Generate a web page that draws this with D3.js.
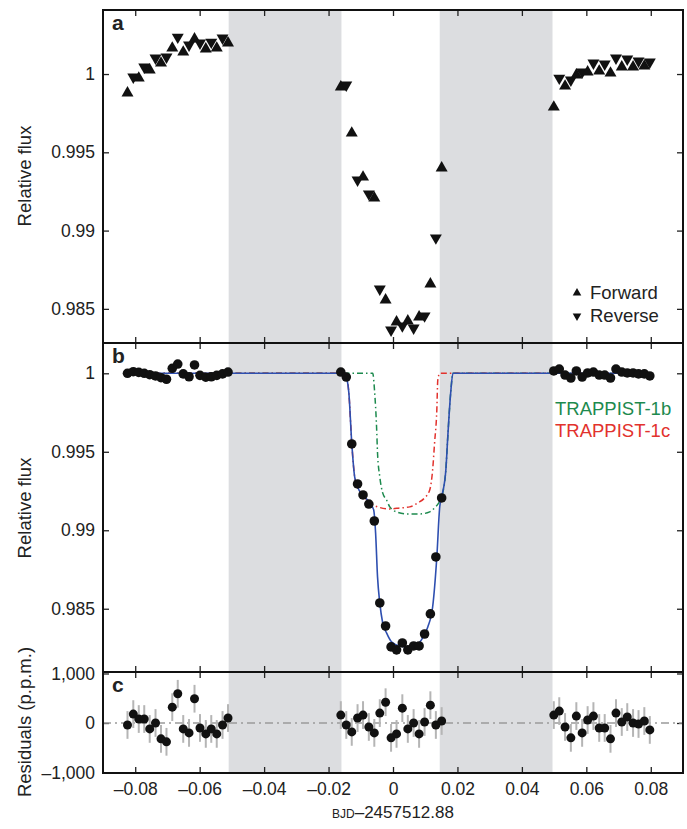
<!DOCTYPE html>
<html>
<head>
<meta charset="utf-8">
<script src="https://cdn.jsdelivr.net/npm/d3@7"></script>
<style>
  body { margin: 0; background: #fff; }
  svg text { font-family: "Liberation Sans", Arial, Helvetica, sans-serif; fill: #222; }
</style>
</head>
<body>
<svg id="chart"></svg>
<script>
// binned times (days from BJD 2457512.88), shared by the three panels
const times = [
  -0.0824, -0.0806, -0.0789, -0.0772, -0.0755, -0.0737, -0.0720, -0.0703, -0.0685, -0.0668,
  -0.0651, -0.0633, -0.0616, -0.0599, -0.0581, -0.0564, -0.0547, -0.0529, -0.0512,
  -0.0162, -0.0145, -0.0128, -0.0110, -0.0093, -0.0075, -0.0058, -0.0041, -0.0023, -0.0006,
  0.0011, 0.0029, 0.0046, 0.0064, 0.0081, 0.0098, 0.0116, 0.0133, 0.0151,
  0.0499, 0.0516, 0.0534, 0.0552, 0.0569, 0.0587, 0.0604, 0.0622, 0.0640, 0.0657,
  0.0675, 0.0692, 0.0710, 0.0727, 0.0745, 0.0762, 0.0780, 0.0797
];

// panel a: raw flux, forward / reverse scans
const fluxA = [
  0.99879, 0.99981, 0.99974, 1.00045, 1.00026, 1.00102, 1.00070, 1.00109, 1.00166, 1.00236,
  1.00140, 1.00185, 1.00224, 1.00198, 1.00160, 1.00204, 1.00166, 1.00230, 1.00198,
  0.99917, 0.99930, 0.99623, 0.99323, 0.99342, 0.99234, 0.99208, 0.98627, 0.98557, 0.98365,
  0.98416, 0.98391, 0.98423, 0.98378, 0.98448, 0.98455, 0.98659, 0.98953, 0.99400,
  0.99789, 0.99974, 0.99923, 0.99962, 0.99994, 1.00013, 1.00013, 1.00070, 1.00019, 1.00064,
  1.00006, 1.00102, 1.00045, 1.00096, 1.00045, 1.00083, 1.00051, 1.00077
];
const sweep = ("FRFRFRFRFRFRFRFRFRF" + "FRFRFRFRFRFRFRFRFRF" + "FRFRFRFRFRFRFRFRFR").split("");

// panel b: detrended flux
const fluxB = [
  1.00000, 1.00010, 1.00006, 1.00000, 0.99991, 0.99983, 0.99972, 0.99962, 1.00032, 1.00059,
  0.99996, 0.99978, 1.00053, 0.99987, 0.99975, 0.99978, 0.99987, 0.99996, 1.00008,
  1.00008, 0.99976, 0.99550, 0.99295, 0.99225, 0.99167, 0.99059, 0.98537, 0.98390, 0.98257,
  0.98238, 0.98282, 0.98238, 0.98263, 0.98263, 0.98339, 0.98467, 0.98830, 0.99206,
  1.00015, 1.00027, 0.99989, 0.99970, 1.00015, 0.99976, 1.00002, 1.00008, 0.99989, 0.99989,
  0.99970, 1.00027, 1.00008, 1.00002, 1.00002, 0.99996, 0.99996, 0.99983
];

// panel c: residuals (p.p.m.)
const residuals = [
  -40, 180, 80, 80, -120, 0, -320, -380, 320, 590, -120, -200, 490, -100, -220, -120, -220, -40, 100,
  160, -40, -180, 100, 160, -80, -200, 200, 420, -300, -220, 300, -120, 0, -220, 20, 360, -40, 40,
  160, 240, -80, -300, 140, -200, 60, 140, -100, -100, -320, 200, 20, 120, 0, -20, 40, -140
];
const residualError = 280;

// model curves
const modelT = [-0.0824, -0.0147, -0.0144, -0.0137, -0.0128, -0.0119, -0.0110, -0.0094, -0.0072, -0.0060,
  -0.0054, -0.0048, -0.0041, -0.0032, -0.0020, -0.0004, 0.0021, 0.0046, 0.0074, 0.0092,
  0.0108, 0.0123, 0.0136, 0.0145, 0.0151, 0.0164, 0.0170, 0.0179, 0.0186, 0.0797];
const modelF = [1, 1, 0.99976, 0.99875, 0.99556, 0.99340, 0.99276, 0.99225, 0.99175, 0.99130,
  0.98983, 0.98703, 0.98537, 0.98410, 0.98346, 0.98288, 0.98263, 0.98257, 0.98269, 0.98314,
  0.98384, 0.98511, 0.98830, 0.99149, 0.99212, 0.99384, 0.99595, 0.99875, 1, 1];

const bT = [-0.0824, -0.0063, -0.0057, -0.0051, -0.0048, -0.0041, -0.0032, -0.0020, -0.0010, 0.0011,
  0.0043, 0.0083, 0.0114, 0.0129, 0.0142, 0.0151, 0.0164, 0.0170, 0.0179, 0.0186, 0.0797];
const bF = [1, 1, 0.99881, 0.99658, 0.99492, 0.99340, 0.99238, 0.99193, 0.99149, 0.99117,
  0.99104, 0.99104, 0.99117, 0.99142, 0.99174, 0.99212, 0.99384, 0.99595, 0.99875, 1, 1];

const cT = [-0.0824, -0.0147, -0.0137, -0.0128, -0.0119, -0.0110, -0.0094, -0.0072, -0.0048, -0.0010,
  0.0021, 0.0052, 0.0077, 0.0098, 0.0114, 0.0123, 0.0129, 0.0136, 0.0139, 0.0145, 0.0797];
const cF = [1, 1, 0.99875, 0.99556, 0.99340, 0.99276, 0.99225, 0.99175, 0.99149, 0.99136,
  0.99142, 0.99149, 0.99175, 0.99206, 0.99257, 0.99384, 0.99556, 0.99766, 0.99957, 1, 1];

// shaded (excluded) intervals
const bands = [[-0.051, -0.016], [0.0145, 0.0495]];

const xTicks = [-0.08, -0.06, -0.04, -0.02, 0, 0.02, 0.04, 0.06, 0.08];
const fluxTicks = [1, 0.995, 0.99, 0.985];
const residualTicks = [1000, 0, -1000];

const WIDTH = 687, HEIGHT = 829;
const left = 103, right = 683;

const svg = d3.select("svg#chart")
              .attr("width", WIDTH)
              .attr("height", HEIGHT);

const x = d3.scaleLinear().domain([-0.09, 0.09]).range([left, right]);

const panels = [
  { id: "a", top: 10, bottom: 343, y: d3.scaleLinear().domain([0.98282, 1.00409]).range([343, 10]), ticks: fluxTicks },
  { id: "b", top: 343, bottom: 672, y: d3.scaleLinear().domain([0.98097, 1.00193]).range([672, 343]), ticks: fluxTicks },
  { id: "c", top: 672, bottom: 773, y: d3.scaleLinear().domain([-1010, 1030]).range([773, 672]), ticks: residualTicks }
];

const dash = (v) => v === 0 ? "0" : (v < 0 ? "\u2013" : "") + Math.abs(v).toFixed(2);
const thousands = (v) => v === 0 ? "0" : (v < 0 ? "\u2013" : "") + d3.format(",")(Math.abs(v));

panels.forEach((p) => {
  const g = svg.append("g").attr("id", "panel-" + p.id);

  g.selectAll("rect.band")
    .data(bands)
    .join("rect")
      .attr("class", "band")
      .attr("x", (d) => x(d[0]))
      .attr("width", (d) => x(d[1]) - x(d[0]))
      .attr("y", p.top)
      .attr("height", p.bottom - p.top)
      .attr("fill", "#dcdde0");

  // inward ticks on all four sides
  g.append("g")
    .attr("transform", `translate(${left}, 0)`)
    .call(d3.axisLeft(p.y).tickValues(p.ticks).tickSize(-6).tickPadding(8)
            .tickFormat(p.id === "c" ? thousands : (d) => String(d)));
  g.append("g")
    .attr("transform", `translate(${right}, 0)`)
    .call(d3.axisRight(p.y).tickValues(p.ticks).tickSize(-6).tickFormat(""));
  g.append("g")
    .attr("transform", `translate(0, ${p.top})`)
    .call(d3.axisTop(x).tickValues(xTicks).tickSize(-6).tickFormat(""));
  g.append("g")
    .attr("transform", `translate(0, ${p.bottom})`)
    .call(d3.axisBottom(x).tickValues(xTicks).tickSize(-6).tickPadding(10)
            .tickFormat(p.id === "c" ? dash : ""));

  g.selectAll(".domain").remove();
  g.selectAll(".tick line").attr("stroke", "#222").attr("stroke-width", 1.3);
  g.selectAll(".tick text").attr("font-size", 17.5).attr("fill", "#222")
    .style("font-family", '"Liberation Sans", Arial, sans-serif');

  g.append("text")
    .attr("x", 112)
    .attr("y", p.top + 20)
    .attr("font-size", 21)
    .attr("font-weight", "bold")
    .attr("fill", "#111")
    .text(p.id);

  p.g = g;
});

const [pa, pb, pc] = panels;

// panel a: triangles
const tri = d3.symbol().type(d3.symbolTriangle).size(62);
pa.g.selectAll("path.scan")
  .data(times.map((t, i) => ({ t: t, f: fluxA[i], s: sweep[i] })))
  .join("path")
    .attr("class", "scan")
    .attr("d", tri)
    .attr("transform", (d) => `translate(${x(d.t)}, ${pa.y(d.f)})` + (d.s === "R" ? " rotate(180)" : ""))
    .attr("fill", "#111");

const legendA = pa.g.append("g");
[["Forward", 299, 0], ["Reverse", 322, 180]].forEach(([name, yy, rot]) => {
  legendA.append("path")
    .attr("d", d3.symbol().type(d3.symbolTriangle).size(32))
    .attr("transform", `translate(577, ${yy - 6}) rotate(${rot})`)
    .attr("fill", "#111");
  legendA.append("text")
    .attr("x", 590)
    .attr("y", yy)
    .attr("font-size", 18.5)
    .text(name);
});

// panel b: models and detrended points
const line = (ys) => d3.line()
                        .x((d) => x(d[0]))
                        .y((d) => ys(d[1]))
                        .curve(d3.curveMonotoneX);

pb.g.append("path")
  .datum(bT.map((t, i) => [t, bF[i]]))
  .attr("d", line(pb.y))
  .attr("fill", "none")
  .attr("stroke", "#1d8a4e")
  .attr("stroke-width", 1.5)
  .attr("stroke-dasharray", "6,3,1.5,3");

pb.g.append("path")
  .datum(cT.map((t, i) => [t, cF[i]]))
  .attr("d", line(pb.y))
  .attr("fill", "none")
  .attr("stroke", "#e2322d")
  .attr("stroke-width", 1.5)
  .attr("stroke-dasharray", "6,3,1.5,3");

pb.g.append("path")
  .datum(modelT.map((t, i) => [t, modelF[i]]))
  .attr("d", line(pb.y))
  .attr("fill", "none")
  .attr("stroke", "#2e4fb0")
  .attr("stroke-width", 1.6);

pb.g.selectAll("circle")
  .data(times.map((t, i) => ({ t: t, f: fluxB[i] })))
  .join("circle")
    .attr("cx", (d) => x(d.t))
    .attr("cy", (d) => pb.y(d.f))
    .attr("r", 4.8)
    .attr("fill", "#111");

pb.g.append("text")
  .attr("x", 555).attr("y", 415)
  .attr("font-size", 18.5)
  .style("fill", "#1d8a4e")
  .text("TRAPPIST-1b");
pb.g.append("text")
  .attr("x", 555).attr("y", 437)
  .attr("font-size", 18.5)
  .style("fill", "#e2322d")
  .text("TRAPPIST-1c");

// panel c: residuals
pc.g.append("line")
  .attr("x1", left).attr("x2", right)
  .attr("y1", pc.y(0)).attr("y2", pc.y(0))
  .attr("stroke", "#9a9a9a")
  .attr("stroke-width", 1.3)
  .attr("stroke-dasharray", "8,4,2,4");

const res = times.map((t, i) => ({ t: t, r: residuals[i] }));
pc.g.selectAll("line.err")
  .data(res)
  .join("line")
    .attr("class", "err")
    .attr("x1", (d) => x(d.t)).attr("x2", (d) => x(d.t))
    .attr("y1", (d) => pc.y(d.r - residualError))
    .attr("y2", (d) => pc.y(d.r + residualError))
    .attr("stroke", "#b5b5b5")
    .attr("stroke-width", 2);
pc.g.selectAll("circle")
  .data(res)
  .join("circle")
    .attr("cx", (d) => x(d.t))
    .attr("cy", (d) => pc.y(d.r))
    .attr("r", 4.5)
    .attr("fill", "#111");

// frames
panels.forEach((p) => {
  svg.append("rect")
    .attr("x", left).attr("y", p.top)
    .attr("width", right - left).attr("height", p.bottom - p.top)
    .attr("fill", "none")
    .attr("stroke", "#111")
    .attr("stroke-width", 2);
});

// axis titles
const yTitle = (text, cy) => svg.append("text")
                                .attr("transform", `translate(31, ${cy}) rotate(-90)`)
                                .attr("text-anchor", "middle")
                                .attr("font-size", 18.5)
                                .text(text);
yTitle("Relative flux", 176);
yTitle("Relative flux", 508);
yTitle("Residuals (p.p.m.)", 722);

const xTitle = svg.append("text")
                  .attr("x", 393)
                  .attr("y", 818)
                  .attr("text-anchor", "middle")
                  .attr("font-size", 17);
xTitle.append("tspan").attr("font-size", 12).text("BJD");
xTitle.append("tspan").text("\u20132457512.88");
</script>
</body>
</html>
